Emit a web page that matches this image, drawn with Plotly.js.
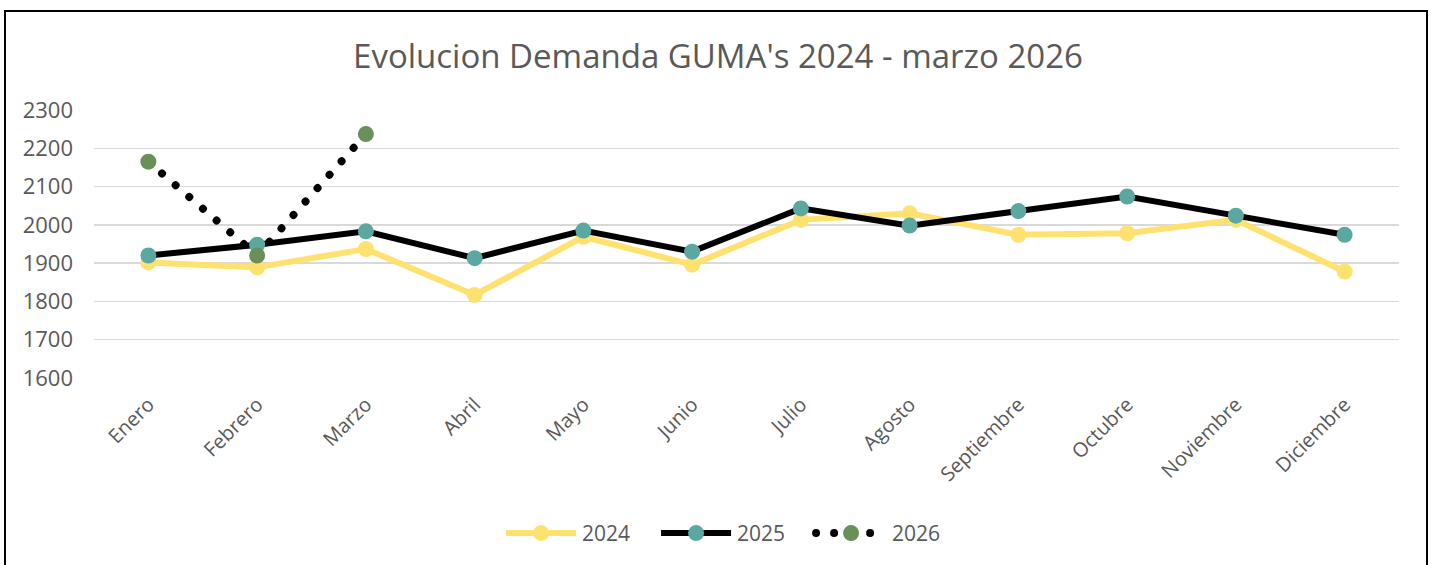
<!DOCTYPE html>
<html><head><meta charset="utf-8">
<script src="https://cdn.plot.ly/plotly-3.0.1.min.js"></script>
<style>
html,body{margin:0;padding:0;background:#fff;overflow:hidden}
#chart{width:1436px;height:565px}
#frame{position:absolute;left:4px;top:10px;width:1420px;height:600px;border:2px solid #000;pointer-events:none}
</style></head>
<body>
<div id="chart"></div>
<div id="frame"></div>
<script>
const months = ['Enero','Febrero','Marzo','Abril','Mayo','Junio','Julio','Agosto','Septiembre','Octubre','Noviembre','Diciembre'];
const values2024 = [1902,1889,1937,1817,1969,1896,2013,2030,1974,1978,2013,1878];
const values2025 = [1920,1948,1983,1913,1985,1930,2043,1998,2036,2074,2024,1974];
const months2026 = ['Enero','Febrero','Marzo'];
const values2026 = [2165,1920,2237];

const font = 'Open Sans, Liberation Sans, sans-serif';
const grey = '#595959';

const traces = [
  {x: months, y: values2024, name: '2024', type: 'scatter', mode: 'lines+markers',
   line: {color: '#FFE170', width: 6}, marker: {color: '#FFE170', size: 16}},
  {x: months, y: values2025, name: '2025', type: 'scatter', mode: 'lines+markers',
   line: {color: '#000000', width: 6}, marker: {color: '#5BA8A0', size: 16}},
  {x: months2026, y: values2026, name: '2026', type: 'scatter', mode: 'lines+markers',
   line: {color: '#000000', width: 8, dash: 'dot'}, marker: {color: '#6A8F5A', size: 16}}
];

const layout = {
  width: 1436, height: 565,
  paper_bgcolor: '#fff', plot_bgcolor: '#fff',
  margin: {l: 94, r: 37, t: 110, b: 187, autoexpand: false},
  title: {text: "Evolucion Demanda GUMA's 2024 - marzo 2026", font: {family: font, size: 33, color: grey},
          x: 0.5, xanchor: 'center', y: 0.9, yanchor: 'middle', yref: 'container'},
  xaxis: {type: 'category', categoryorder: 'array', categoryarray: months, range: [-0.5, 11.5],
          tickangle: -45, tickfont: {family: font, size: 20, color: grey},
          showgrid: false, zeroline: false, showline: false, ticks: '', ticklabelstandoff: 10},
  yaxis: {range: [1600, 2300], dtick: 100, tickfont: {family: font, size: 22, color: grey},
          gridcolor: '#d9d9d9', gridwidth: 1.5, zeroline: false, showline: false, ticks: '',
          ticklabelstandoff: 20},
  showlegend: true,
  legend: {orientation: 'h', x: 0.5215, xanchor: 'center', y: -0.58, yanchor: 'middle', yref: 'paper',
           font: {family: font, size: 21, color: grey}, entrywidth: 110, traceorder: 'normal'}
};
Plotly.newPlot('chart', traces, layout, {staticPlot: true}).then(function (gd) {
  const styleDots = function (p) {
    if (!p) return;
    p.style.strokeDasharray = '0.01px,18px';
    p.style.strokeLinecap = 'round';
  };
  // let legend symbols extend past the legend box
  gd.querySelectorAll('.legend [clip-path]').forEach(function (el) { el.removeAttribute('clip-path'); });
  const lg = gd.querySelector('.legend');
  if (lg) lg.removeAttribute('clip-path');
  // widen legend symbols: shift symbol group left and lengthen its line
  gd.querySelectorAll('.legend .traces').forEach(function (t) {
    const layers = t.querySelector('g.layers');
    if (layers) layers.setAttribute('transform', 'translate(-21,0)');
    t.querySelectorAll('path.js-line').forEach(function (p) {
      p.setAttribute('d', 'M-15,0h70');
    });
  });
  const tr = gd.querySelectorAll('.scatterlayer .trace');
  if (tr[2]) styleDots(tr[2].querySelector('path.js-line'));
  const lt = gd.querySelectorAll('.legend .traces');
  if (lt[2]) lt[2].querySelectorAll('path.js-line').forEach(styleDots);
});
</script>
</body></html>
